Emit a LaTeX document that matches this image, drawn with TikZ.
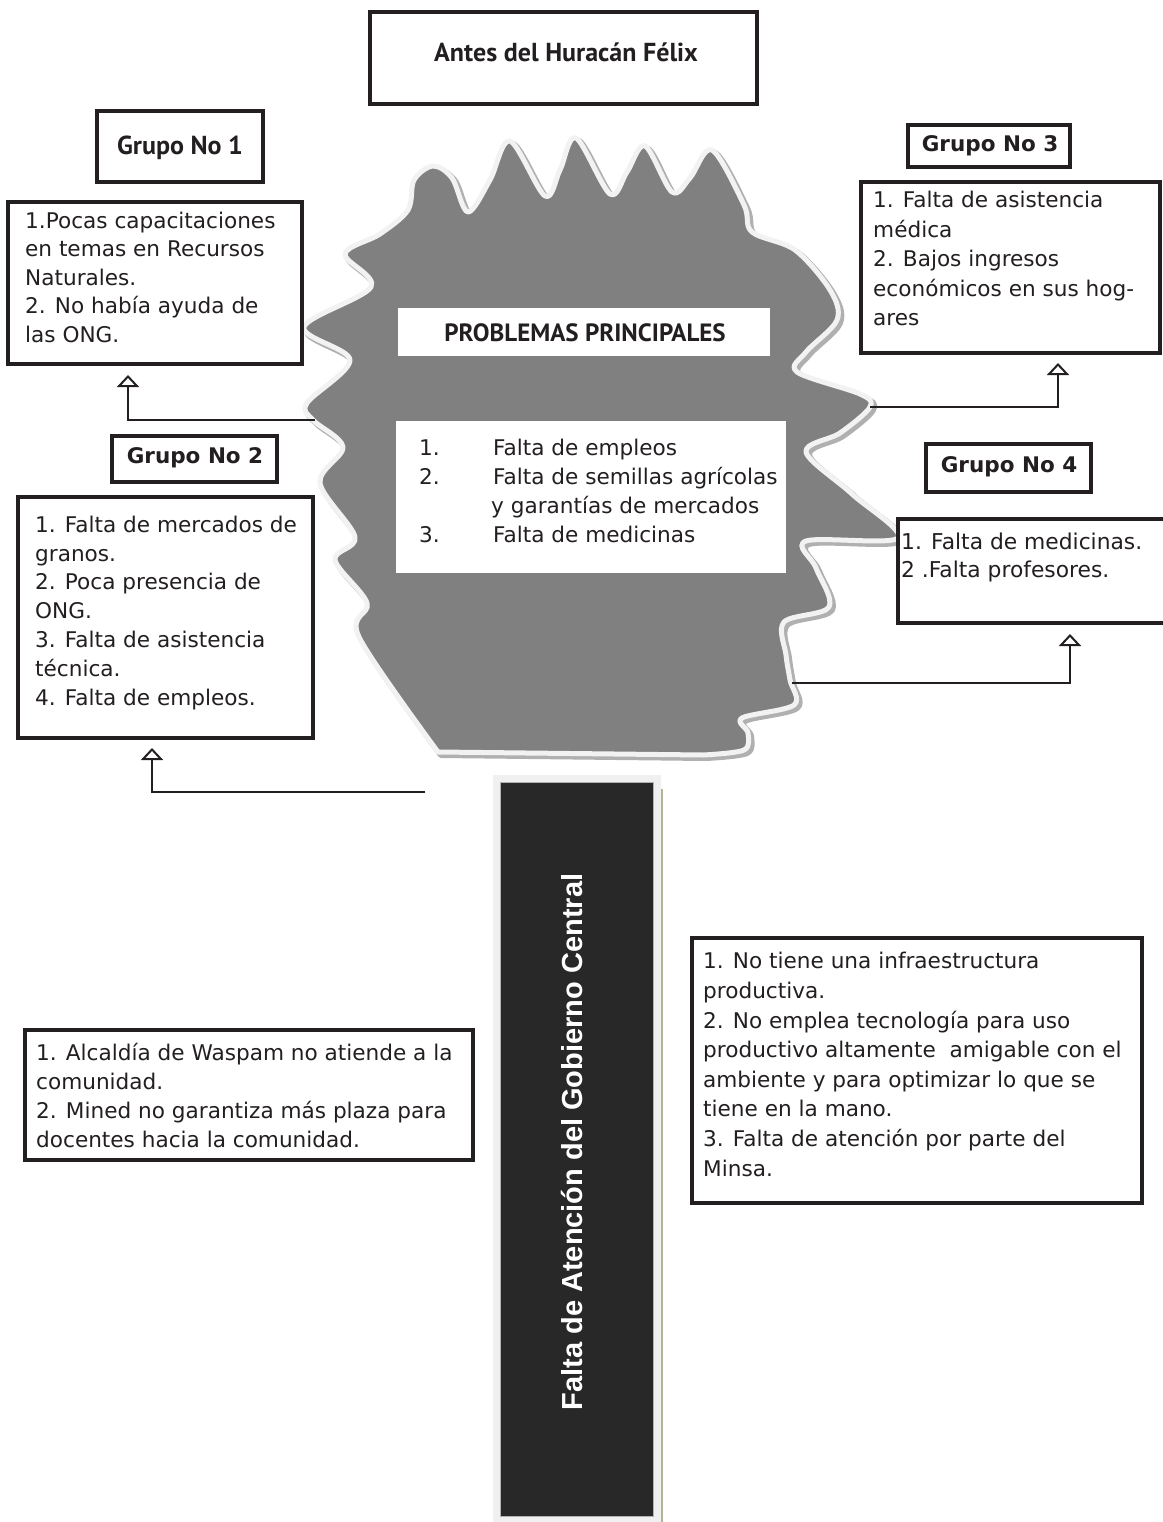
\documentclass[tikz,border=0pt]{standalone}
\usepackage{fontspec}
\setmainfont{DejaVu Sans}
\newfontfamily\headfont{PT Sans}
\newfontfamily\barfont{Liberation Sans}
\usetikzlibrary{arrows.meta}

\definecolor{ink}{HTML}{231F20}
\definecolor{blobGray}{HTML}{808080}
\definecolor{rim}{HTML}{F2F2F2}
\definecolor{rimShadow}{HTML}{B0B0B0}
\definecolor{barDark}{HTML}{282828}
\definecolor{barFrame}{HTML}{F0F0F0}
\definecolor{barEdge}{HTML}{B4B494}

\begin{document}
\begin{tikzpicture}[x=1pt,y=-1pt,
  framebox/.style={draw=ink, line width=3.5pt, fill=white, inner sep=0pt,
                   outer sep=0pt, anchor=north west},
  whitebox/.style={fill=white, inner sep=0pt, outer sep=0pt, anchor=north west},
  bodytext/.style={inner sep=0pt, anchor=north west, align=left, text=ink,
                   font=\fontsize{21.6}{28.8}\selectfont},
  grouplabel/.style={inner sep=0pt, text=ink, font=\fontsize{21.5}{26}\selectfont\bfseries},
  headlabel/.style={inner sep=0pt, text=ink, font=\headfont\fontsize{26}{30}\selectfont\bfseries},
  conn/.style={draw=ink, line width=2pt, -{Triangle[open, width=22pt, length=12pt]}},
  blobshade/.style={fill=rimShadow, draw=rimShadow, line width=6pt, line join=round},
  blobbody/.style={fill=blobGray, draw=rim, line width=5pt, line join=round},
]
\useasboundingbox[fill=white] (0,0) rectangle (1162,1522);

% central irregular shape with its light rim and shadow
\foreach \sty/\off in {blobshade/3, blobbody/0}{
  \path[\sty, shift={(\off,\off)}] (438,752) -- (703,755)
    plot[smooth, tension=0.55] coordinates {
      (703,755) (744,750) (748,733) (742,718) (794,705) (790,680) (786,655)
      (784,622) (829,607) (816,568) (806,541) (898,538) (852,494) (806,452)
      (840,433) (870,407) (860,394) (797,372) (806,352) (837,320) (830,290)
      (795,250) (752,232) (744,205) (712,150) (690,178) (672,192) (645,146)
      (627,172) (610,194) (576,138) (560,170) (545,196) (510,141) (490,180)
      (468,212) (452,178) (433,166) (414,180) (408,210) (380,234) (345,254)
      (371,287) (304,327) (350,360) (307,403) (313,420) (343,447) (320,483)
      (355,537) (335,560) (367,603) (359,637) (438,752)} -- cycle;
}

% title
\node[framebox, minimum width=387pt, minimum height=92pt] (titlebox) at (370,12) {};
\node[headlabel] (title) at (566,52) {Antes del Huracán Félix};

% group labels
\node[framebox, minimum width=166pt, minimum height=71pt] (g1label) at (97,111) {};
\node[headlabel] (g1name) at (180,148) {Grupo No 1};
\node[framebox, minimum width=165pt, minimum height=46pt] (g2label) at (112,436) {};
\node[grouplabel] (g2name) at (195,458) {Grupo No 2};
\node[framebox, minimum width=162pt, minimum height=42pt] (g3label) at (908,125) {};
\node[grouplabel] (g3name) at (990,146) {Grupo No 3};
\node[framebox, minimum width=165pt, minimum height=48pt] (g4label) at (926,444) {};
\node[grouplabel] (g4name) at (1009,467) {Grupo No 4};

% group contents
\node[framebox, minimum width=294pt, minimum height=162pt] (g1box) at (8,202) {};
\node[bodytext, font=\fontsize{21.6}{28.5}\selectfont] (g1text) at (25,208)
  {\strut 1.Pocas capacitaciones\\ en temas en Recursos\\ Naturales.\\
   2. No había ayuda de\\ las ONG.};

\node[framebox, minimum width=295pt, minimum height=241pt] (g2box) at (18,497) {};
\node[bodytext] (g2text) at (35,512)
  {\strut 1. Falta de mercados de\\ granos.\\ 2. Poca presencia de\\ ONG.\\
   3. Falta de asistencia\\ técnica.\\ 4. Falta de empleos.};

\node[framebox, minimum width=299pt, minimum height=171pt] (g3box) at (861,182) {};
\node[bodytext, font=\fontsize{21.6}{29.5}\selectfont] (g3text) at (873,187)
  {\strut 1. Falta de asistencia\\ médica\\ 2. Bajos ingresos\\
   económicos en sus hog-\\ ares};

\node[framebox, minimum width=290pt, minimum height=104pt] (g4box) at (898,519) {};
\node[bodytext, font=\fontsize{21.8}{28}\selectfont] (g4text) at (901,530)
  {\strut 1. Falta de medicinas.\\ 2 .Falta profesores.};

% main problems
\node[whitebox, minimum width=372pt, minimum height=48pt] (probbox) at (398,308) {};
\node[headlabel, font=\headfont\fontsize{25}{30}\selectfont\bfseries] (probtitle) at (585,333)
  {PROBLEMAS PRINCIPALES};
\node[whitebox, minimum width=390pt, minimum height=152pt] (listbox) at (396,421) {};
\node[bodytext, font=\fontsize{21.6}{29}\selectfont] (listtext) at (419,435)
  {\strut\makebox[74pt][l]{1.}Falta de empleos\\
   \makebox[74pt][l]{2.}Falta de semillas agrícolas\\
   \hspace*{72pt}y garantías de mercados\\
   \makebox[74pt][l]{3.}Falta de medicinas};

% vertical bar
\node[fill=barFrame, inner sep=0pt, outer sep=0pt, anchor=north west,
      minimum width=168pt, minimum height=748pt] (barframe) at (493,775) {};
\node[fill=barDark, draw=gray!60, line width=0.8pt, inner sep=0pt, outer sep=0pt,
      anchor=north west, minimum width=153pt, minimum height=734pt] (bar) at (500,782) {};
\draw[barEdge, line width=1.6pt] (barframe.north east) ++(1,14) coordinate (edgetop)
  -- (edgetop |- barframe.south);
\node[rotate=90, text=white, inner sep=0pt, font=\barfont\fontsize{29}{34}\selectfont\bfseries]
  (bartext) at (572,1142) {Falta de Atención del Gobierno Central};

% lower boxes
\node[framebox, minimum width=448pt, minimum height=130pt] (leftbox) at (25,1030) {};
\node[bodytext, font=\fontsize{21.6}{29}\selectfont] (lefttext) at (36,1040)
  {\strut 1. Alcaldía de Waspam no atiende a la\\ comunidad.\\
   2. Mined no garantiza más plaza para\\ docentes hacia la comunidad.};

\node[framebox, minimum width=450pt, minimum height=265pt] (rightbox) at (692,938) {};
\node[bodytext, font=\fontsize{21.6}{29.6}\selectfont] (righttext) at (703,948)
  {\strut 1. No tiene una infraestructura\\ productiva.\\
   2. No emplea tecnología para uso\\ productivo altamente\ \ amigable con el\\
   ambiente y para optimizar lo que se\\ tiene en la mano.\\
   3. Falta de atención por parte del\\ Minsa.};

% connectors
\coordinate (s1) at (315,420);  \coordinate (t1) at (128,375);
\coordinate (s2) at (425,792);  \coordinate (t2) at (152,748);
\coordinate (s3) at (870,407);  \coordinate (t3) at (1058,363);
\coordinate (s4) at (792,683);  \coordinate (t4) at (1070,634);
\draw[conn] (s1) -| (t1);
\draw[conn] (s2) -| (t2);
\draw[conn] (s3) -| (t3);
\draw[conn] (s4) -| (t4);
\end{tikzpicture}
\end{document}
